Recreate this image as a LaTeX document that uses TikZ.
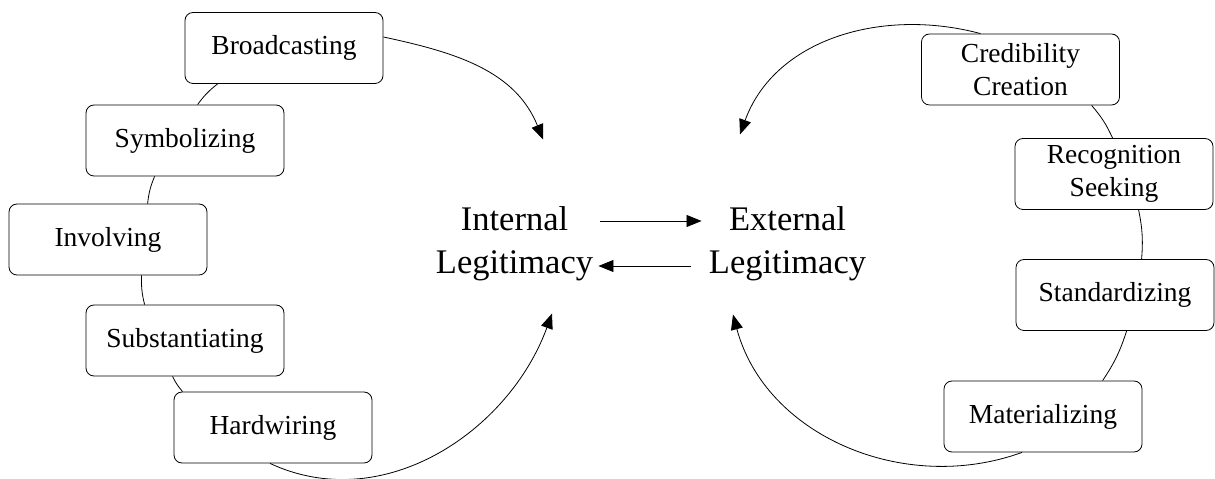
\documentclass[tikz,border=0pt]{standalone}
\usepackage{fontspec}
\setmainfont{Liberation Serif}
\usetikzlibrary{arrows.meta}
\tikzset{
  every picture/.style={line width=0.8pt},
  stage/.style={draw, fill=white, rounded corners=8pt, align=center, minimum width=198pt, minimum height=71pt, inner sep=2pt, font=\fontsize{27.5}{33}\selectfont},
  legit/.style={align=center, inner sep=0pt, font=\fontsize{34.5}{43}\selectfont},
  arrow/.style={-{Triangle[length=15pt, width=12pt]}},
}

\begin{document}
\begin{tikzpicture}[x=1pt, y=1pt]
  \useasboundingbox (0,0) rectangle (1215,479);
  % centre
  \node[legit] (intl) at (514.5, 235.5) {Internal\\Legitimacy};
  \node[legit] (extl) at (787.5, 235.5) {External\\Legitimacy};
  \draw[arrow] ([xshift=7pt, yshift=22.5pt]intl.east) -- ([xshift=-7pt, yshift=22.5pt]extl.west);
  \draw[arrow] ([xshift=-18pt, yshift=-22.5pt]extl.west) -- ([xshift=5pt, yshift=-22.5pt]intl.east);
  % internal side
  \node[stage] (bc) at (284, 431) {Broadcasting};
  \node[stage] (sym) at (185, 338.5) {Symbolizing};
  \node[stage] (inv) at (108, 239.5) {Involving};
  \node[stage] (sub) at (185, 138.5) {Substantiating};
  \node[stage] (hw) at (273, 51.5) {Hardwiring};
  \draw ([xshift=33pt]bc.south west) to[bend right=8] ([xshift=112pt]sym.north west);
  \draw ([xshift=69pt]sym.south west) to[bend right=8] ([xshift=139pt]inv.north west);
  \draw ([xshift=133pt]inv.south west) to[bend right=8] ([xshift=59pt]sub.north west);
  \draw ([xshift=87pt]sub.south west) to[bend right=8] ([xshift=9pt]hw.north west);
  \draw[arrow] ([yshift=11pt]bc.east) to[out=-12, in=112] ([xshift=28.5pt, yshift=66.5pt]intl.north);
  \draw[arrow] ([xshift=-3pt]hw.south) to[out=-25, in=-110] ([xshift=37.5pt, yshift=-32.5pt]intl.south);
  % external side
  \node[stage] (cred) at (1020.5, 409.5) {Credibility\\Creation};
  \node[stage] (rec) at (1114, 305) {Recognition\\Seeking};
  \node[stage] (std) at (1115, 184) {Standardizing};
  \node[stage] (mat) at (1043, 62.5) {Materializing};
  \draw ([xshift=170.5pt]cred.south west) to[bend left=8] ([xshift=98pt]rec.north west);
  \draw ([xshift=124pt]rec.south west) to[bend left=8] ([xshift=126pt]std.north west);
  \draw ([xshift=111pt]std.south west) to[bend left=8] ([xshift=159pt]mat.north west);
  \draw[arrow] ([xshift=-40pt]cred.north) to[out=165, in=70] ([xshift=-47.5pt, yshift=71.5pt]extl.north);
  \draw[arrow] ([xshift=-21pt]mat.south) to[out=200, in=-75] ([xshift=-54.5pt, yshift=-33.5pt]extl.south);
\end{tikzpicture}
\end{document}
